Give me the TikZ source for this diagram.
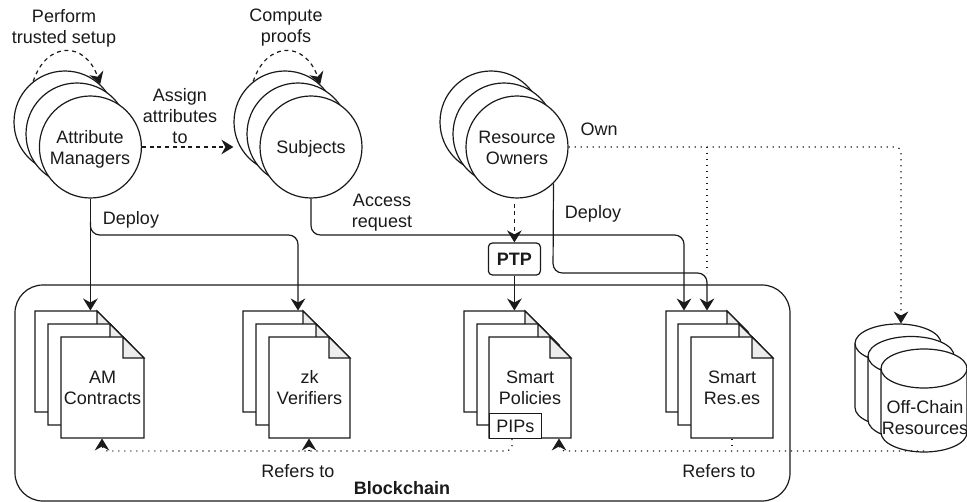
\documentclass[tikz,border=0pt]{standalone}
\usepackage{fontspec}
\setmainfont{Liberation Sans}
\usetikzlibrary{arrows.meta,calc}
\definecolor{ink}{HTML}{1A1A1A}
\tikzset{
  every node/.style={font=\fontsize{13.5}{15.75}\selectfont,text=ink},
  lbl/.style={align=center,inner sep=0pt},
  actor/.style={circle,draw=ink,fill=white,line width=.9pt,minimum size=76.5pt,inner sep=0pt},
  page/.style={draw=ink,fill=white,line width=.9pt,line join=miter},
  foldc/.style={draw=ink,fill=black!7,line width=.9pt},
  box/.style={draw=ink,fill=white,line width=.9pt,inner sep=0pt,align=center},
  tip/.style={-{Stealth[length=9pt,width=11pt,inset=3pt]}},
  solidc/.style={draw=ink,line width=.9pt,rounded corners=7pt},
  dashc/.style={tip,draw=ink,line width=.9pt,dash pattern=on 3pt off 2.8pt},
  dotc/.style={draw=ink,line width=.9pt,dash pattern=on .9pt off 3.6pt,rounded corners=4pt},
}
\newcommand{\docpage}[5]{% name, x, y, w, text
  \draw[page] (#2,#3) -- ++({#4-21},0) -- ++(21,21) -- ++(0,80) -- ++(-#4,0) -- cycle;
  \draw[foldc] ({#2+#4-21},#3) -- ++(0,21) -- ++(21,0) -- cycle;
  \node[lbl,minimum width={#4*.75pt},minimum height=75.75pt] (#1) at ({#2+#4/2},{#3+50.5}) {#5};
}
\newcommand{\cyl}[3]{% x left, centre y of top ellipse, name
  \draw[page] (#1,#2) -- ++(0,64) arc[start angle=180,end angle=0,x radius=43,y radius=19.5]
     -- ++(0,-64) arc[start angle=0,end angle=-180,x radius=43,y radius=19.5] -- cycle;
  \draw[page,fill=none] (#1,#2) arc[start angle=180,end angle=0,x radius=43,y radius=19.5];
  \coordinate (#3) at ({#1+43},{#2+82.5});
}
\begin{document}
\begin{tikzpicture}[x=.75pt,y=-.75pt]
\useasboundingbox (0,0) rectangle (967,502);
% blockchain frame
\node[draw=ink,line width=.9pt,rounded corners=21pt,minimum width=581.25pt,minimum height=162pt,inner sep=0pt] (chain) at (402.5,393) {};
\node[lbl] (chainl) at (402,488) {\bfseries Blockchain};
% actors
\node[actor] (am3) at (65,122) {};
\node[actor] (am2) at (77,134) {};
\node[actor] (am) at (90.4,147) {};
\node[lbl] (aml) at (90,149) {Attribute\\Managers};
\node[actor] (sub3) at (285,122) {};
\node[actor] (sub2) at (298,134) {};
\node[actor] (sub) at (311,147) {};
\node[lbl] (subl) at (311,149) {Subjects};
\node[actor] (ro3) at (491,122) {};
\node[actor] (ro2) at (504,134) {};
\node[actor] (ro) at (517,147) {};
\node[lbl] (rol) at (517,147.5) {Resource\\Owners};
% documents
\docpage{amb}{35}{311}{83}{}
\docpage{amm}{48}{324}{83}{}
\docpage{amc}{61}{337}{83}{AM\\Contracts}
\docpage{zkb}{243}{311}{81}{}
\docpage{zkm}{256}{324}{81}{}
\docpage{zkc}{269}{337}{81}{zk\\Verifiers}
\docpage{polb}{464}{311}{82}{}
\docpage{polm}{477}{324}{82}{}
\docpage{pol}{489}{337}{82}{Smart\\Policies}
\docpage{resb}{666}{311}{82}{}
\docpage{resm}{678}{324}{82}{}
\docpage{res}{691}{337}{82}{Smart\\Res.es}
\node[box,minimum width=39pt,minimum height=18.75pt] (pips) at (515.4,425.9) {PIPs};
\node[box,rounded corners=3pt,minimum width=39pt,minimum height=24pt] (ptp) at (514.4,259) {\bfseries PTP};
% cylinders
\cyl{855}{343.5}{oc3}
\cyl{868}{356}{oc2}
\cyl{881}{368.5}{oc}
\node[lbl] (ocl) at (925,417.5) {Off-Chain\\Resources};
% named entry points and junctions
\coordinate (amin) at (90.4,310.5);
\coordinate (amj) at (90.4,222);
\coordinate (zkin) at (298,310.5);
\coordinate (resa) at (684,310.5);
\coordinate (resc) at (707,310.5);
\coordinate (polin) at (514.4,310.5);
\coordinate (ocin) at (901,323.5);
\coordinate (amup) at (102,438.5);
\coordinate (zkup) at (309,438.5);
\coordinate (zkj) at (309,451);
\coordinate (polup) at (559,438.5);
\coordinate (ownj) at (707,147);
\coordinate (pipo) at (512,439);
\coordinate (reso) at (732,439);
% solid connectors
\draw[solidc,tip] (am.south) -- (amin);
\draw[solidc,tip] (amj) -- (90.4,235) -- (298,235) -- (zkin);
\draw[solidc,tip] (sub.south) -- (311,235) -- (684,235) -- (resa);
\draw[solidc,tip] (ro.-45) -- (553,273) -- (707,273) -- (resc);
\draw[solidc,tip] (ptp.south) -- (polin);
% dashed connectors
\draw[dashc] (am.east) -- (am.east -| sub3.west);
\draw[dashc,shorten <=3.75pt] (ptp.north |- ro.south) -- (ptp.north);
\draw[dashc] (am3.128) .. controls +(13,-40) and +(-15,-44) .. (am3.47);
\draw[dashc] (sub3.128) .. controls +(13,-40) and +(-15,-44) .. (sub3.47);
% dotted connectors
\draw[dotc,tip] (ro.east) -- (901,147) -- (ocin);
\draw[dotc] (ownj) -- (707,273);
\draw[dotc,tip] (pipo) -- (512,451) -- (102,451) -- (amup);
\draw[dotc,tip] (zkj) -- (zkup);
\draw[dotc,tip] (oc) -- (559,451) -- (polup);
\draw[dotc] (reso) -- (732,451);
% labels
\node[lbl] (t1) at (64,28) {Perform\\trusted setup};
\node[lbl] (t2) at (286,28) {Compute\\proofs};
\node[lbl] (t3) at (180,116.5) {Assign\\attributes\\to};
\node[lbl] (t4) at (131,220) {Deploy};
\node[lbl] (t5) at (382,212.5) {Access\\request};
\node[lbl] (t6) at (593,214) {Deploy};
\node[lbl] (t7) at (599,129) {Own};
\node[lbl] (t8) at (298,471) {Refers to};
\node[lbl] (t9) at (719,471) {Refers to};
\end{tikzpicture}
\end{document}
